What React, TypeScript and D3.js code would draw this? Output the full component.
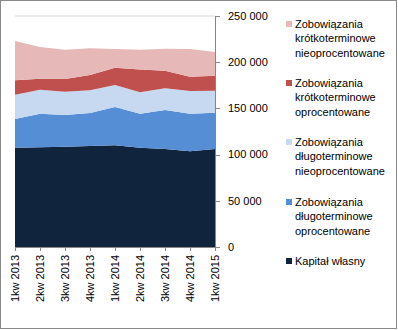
import React from "react";
import * as d3 from "d3";

const categories = ["1kw 2013", "2kw 2013", "3kw 2013", "4kw 2013", "1kw 2014", "2kw 2014", "3kw 2014", "4kw 2014", "1kw 2015"];
const kapitalWlasny = [107500, 107900, 108500, 109300, 110100, 107500, 106100, 103600, 106100];
const dlugoOprocentowane = [31000, 36400, 34300, 35700, 41400, 36800, 42200, 40700, 39300];
const dlugoNieoprocentowane = [26300, 26000, 25200, 24600, 23800, 23200, 23500, 24500, 23800];
const krotkoOprocentowane = [15600, 11900, 13700, 16500, 18700, 24500, 19000, 15500, 16200];
const krotkoNieoprocentowane = [42500, 34300, 31700, 28900, 20300, 21600, 23800, 30000, 25600];
const yTicks = [0, 50000, 100000, 150000, 200000, 250000];

const seriesKeys = ["kap", "dOpr", "dNie", "kOpr", "kNie"];
const seriesColors: Record<string, string> = {
  kap: "#10243E",
  dOpr: "#558ED5",
  dNie: "#C6D9F1",
  kOpr: "#C0504D",
  kNie: "#E6B9B8",
};
const legendItems = [
  { key: "kNie", lines: ["Zobowiązania", "krótkoterminowe", "nieoprocentowane"] },
  { key: "kOpr", lines: ["Zobowiązania", "krótkoterminowe", "oprocentowane"] },
  { key: "dNie", lines: ["Zobowiązania", "długoterminowe", "nieoprocentowane"] },
  { key: "dOpr", lines: ["Zobowiązania", "długoterminowe", "oprocentowane"] },
  { key: "kap", lines: ["Kapitał własny"] },
];

export default function App() {
  const W = 398, H = 330;
  const left = 15, right = 215, top = 16, bottom = 247;
  const x = d3.scalePoint<string>().domain(categories).range([left, right]);
  const y = d3.scaleLinear().domain([0, 250000]).range([bottom, top]);

  const rows = categories.map((c, i) => ({
    cat: c,
    kap: kapitalWlasny[i],
    dOpr: dlugoOprocentowane[i],
    dNie: dlugoNieoprocentowane[i],
    kOpr: krotkoOprocentowane[i],
    kNie: krotkoNieoprocentowane[i],
  }));
  const stacked = d3.stack<any>().keys(seriesKeys)(rows);
  const area = d3
    .area<any>()
    .x((d) => x(d.data.cat) as number)
    .y0((d) => y(d[0]))
    .y1((d) => y(d[1]));

  const fmt = d3.formatLocale({ decimal: ",", thousands: "\u00a0", grouping: [3], currency: ["", ""] }).format(",d");
  const font = "'Liberation Sans', Arial, sans-serif";
  const axisColor = "#868686";
  const legendStarts = [24, 83, 142, 202, 261];
  const lineH = 14.5;

  return (
    <svg width={W} height={H} style={{ position: "absolute", left: 0, top: 0 }} fontFamily={font}>
      <rect x={0.5} y={0.5} width={396} height={328} fill="#fff" stroke="#898989" />
      {yTicks.map((t) => (
        <line key={"g" + t} x1={left} x2={right} y1={y(t)} y2={y(t)} stroke="#D9D9D9" />
      ))}
      {stacked.map((s) => (
        <path key={s.key} d={area(s) as string} fill={seriesColors[s.key]} />
      ))}
      {/* x axis */}
      <line x1={left} x2={right} y1={bottom + 0.5} y2={bottom + 0.5} stroke={axisColor} />
      {categories.map((c) => (
        <g key={c}>
          <line x1={(x(c) as number) + 0.5} x2={(x(c) as number) + 0.5} y1={bottom} y2={bottom + 4} stroke={axisColor} />
          <text
            transform={`translate(${x(c)},${255}) rotate(-90)`}
            textAnchor="end"
            dy="0.35em"
            fontSize={11}
            fill="#000"
          >
            {c}
          </text>
        </g>
      ))}
      {/* y axis right */}
      <line x1={right + 0.5} x2={right + 0.5} y1={top} y2={bottom} stroke={axisColor} />
      {yTicks.map((t) => (
        <g key={"t" + t}>
          <line x1={right} x2={right + 5} y1={Math.round(y(t)) + 0.5} y2={Math.round(y(t)) + 0.5} stroke={axisColor} />
          <text x={228} y={y(t)} dy="0.35em" fontSize={11} fill="#000">
            {fmt(t)}
          </text>
        </g>
      ))}
      {/* legend */}
      {legendItems.map((it, i) => (
        <g key={it.key}>
          <rect x={286} y={legendStarts[i] - 3} width={6} height={6} fill={seriesColors[it.key]} />
          {it.lines.map((l, j) => (
            <text key={j} x={295} y={legendStarts[i] + j * lineH} dy="0.35em" fontSize={11} fill="#000">
              {l}
            </text>
          ))}
        </g>
      ))}
    </svg>
  );
}
